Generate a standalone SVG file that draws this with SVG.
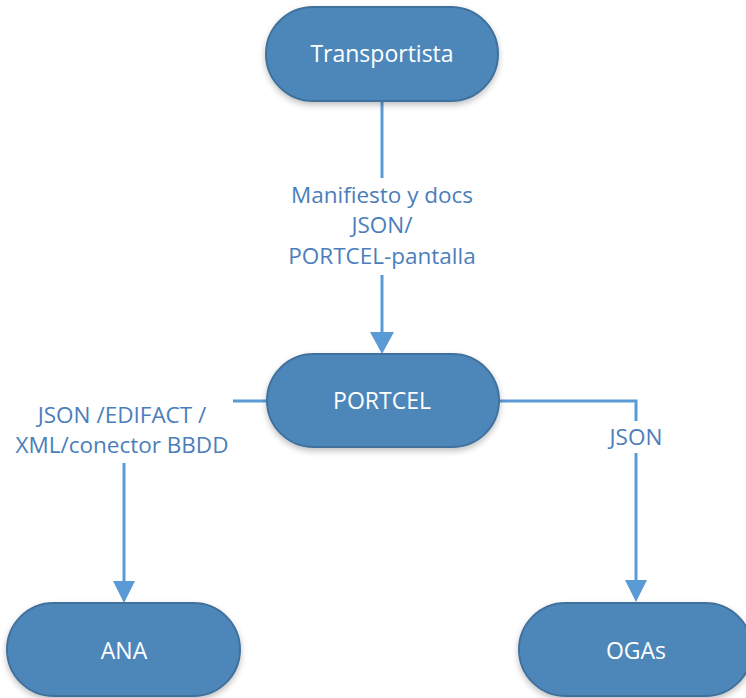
<svg xmlns="http://www.w3.org/2000/svg" width="746" height="698" viewBox="0 0 746 698">
<defs>
<style>
.node{fill:#4E87BA;stroke:#41719C;stroke-width:2;filter:url(#sh)}
.nt{font-family:"Open Sans","Liberation Sans",Arial,sans-serif;font-size:23px;fill:#ffffff;text-anchor:middle}
.lbl{font-family:"Open Sans","Liberation Sans",Arial,sans-serif;font-size:22.5px;fill:#4A7EBB;text-anchor:middle}
.con{fill:none;stroke:#5B9BD5;stroke-width:3}
.ah{fill:#5B9BD5}
</style>
<filter id="sh" x="-20%" y="-20%" width="140%" height="150%">
<feGaussianBlur in="SourceAlpha" stdDeviation="3"/>
<feOffset dy="3"/>
<feComponentTransfer><feFuncA type="linear" slope="0.25"/></feComponentTransfer>
<feMerge><feMergeNode/><feMergeNode in="SourceGraphic"/></feMerge>
</filter>
</defs>
<rect width="746" height="698" fill="#ffffff"/>
<g id="connectors">
<path class="con" d="M382,101 V178"/>
<path class="con" d="M382,275 V334"/>
<polygon class="ah" points="370,332 394,332 382,354"/>
<path class="con" d="M233,401 H267"/>
<path class="con" d="M124,463 V584"/>
<polygon class="ah" points="113,581 135,581 124,603"/>
<path class="con" d="M499,401 H636 V421"/>
<path class="con" d="M636,453 V584"/>
<polygon class="ah" points="625,580 647,580 636,602"/>
<text class="lbl" x="382" y="203">Manifiesto y docs</text>
<text class="lbl" x="382" y="233">JSON/</text>
<text class="lbl" x="382" y="264">PORTCEL-pantalla</text>
<text class="lbl" x="122" y="423">JSON /EDIFACT /</text>
<text class="lbl" x="122" y="453">XML/conector BBDD</text>
<text class="lbl" x="636" y="445">JSON</text>
</g>
<g id="transportista">
<rect class="node" x="266" y="7" width="232" height="94" rx="47"/>
<text class="nt" x="382" y="62">Transportista</text>
</g>
<g id="portcel">
<rect class="node" x="267" y="354" width="232" height="93" rx="46.5"/>
<text class="nt" x="382" y="409">PORTCEL</text>
</g>
<g id="ana">
<rect class="node" x="7" y="603" width="233" height="93" rx="46.5"/>
<text class="nt" x="124" y="659">ANA</text>
</g>
<g id="ogas">
<rect class="node" x="519" y="603" width="233" height="93" rx="46.5"/>
<text class="nt" x="636" y="659">OGAs</text>
</g>
</svg>
